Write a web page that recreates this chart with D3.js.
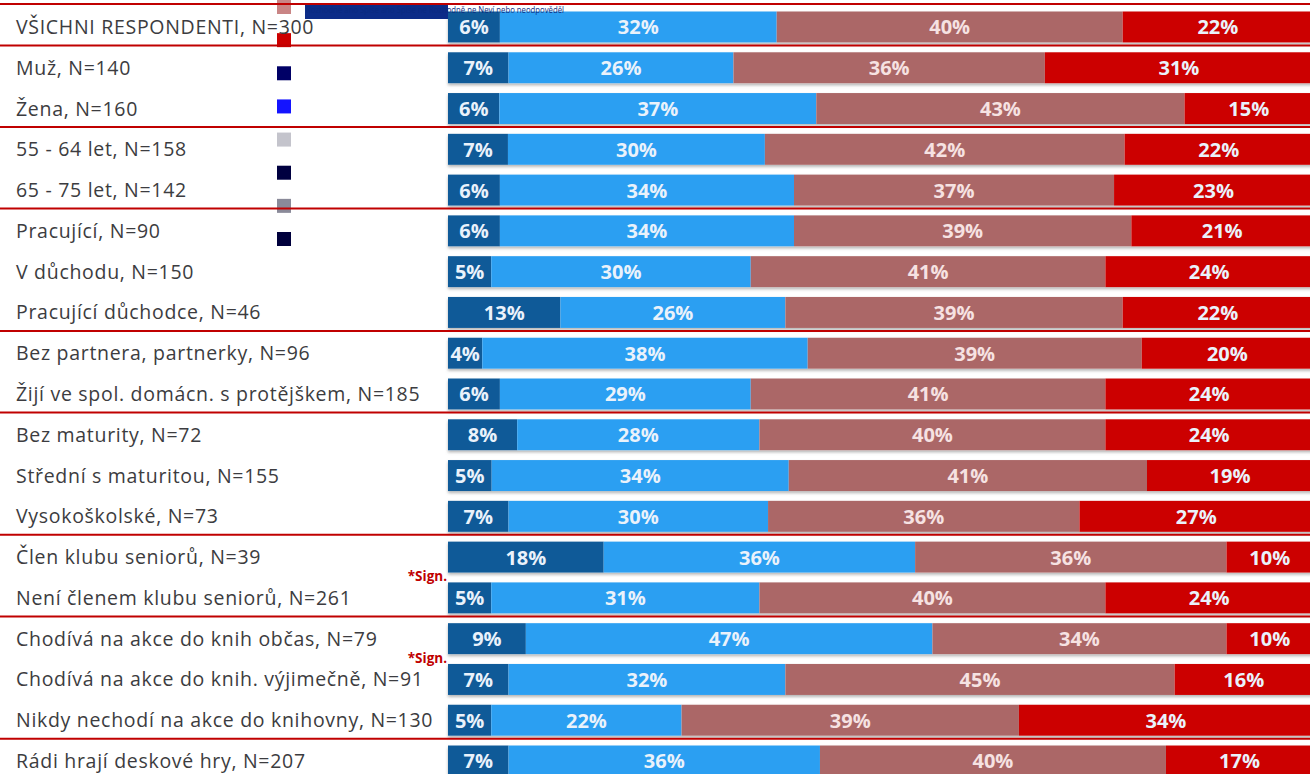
<!DOCTYPE html>
<html>
<head>
<meta charset="utf-8">
<script src="https://cdn.jsdelivr.net/npm/d3@7"></script>
<style>
  body { margin: 0; background: #fff; }
  svg { display: block; }
</style>
</head>
<body>
<div id="chart"></div>
<script>
// chart data
var categories = [
  "VŠICHNI RESPONDENTI, N=300",
  "Muž, N=140",
  "Žena, N=160",
  "55 - 64 let, N=158",
  "65 - 75 let, N=142",
  "Pracující, N=90",
  "V důchodu, N=150",
  "Pracující důchodce, N=46",
  "Bez partnera, partnerky, N=96",
  "Žijí ve spol. domácn. s protějškem, N=185",
  "Bez maturity, N=72",
  "Střední s maturitou, N=155",
  "Vysokoškolské, N=73",
  "Člen klubu seniorů, N=39",
  "Není členem klubu seniorů, N=261",
  "Chodívá na akce do knih občas, N=79",
  "Chodívá na akce do knih. výjimečně, N=91",
  "Nikdy nechodí na akce do knihovny, N=130",
  "Rádi hrají deskové hry, N=207"
];
var s1 = [6, 7, 6, 7, 6, 6, 5, 13, 4, 6, 8, 5, 7, 18, 5, 9, 7, 5, 7];
var s2 = [32, 26, 37, 30, 34, 34, 30, 26, 38, 29, 28, 34, 30, 36, 31, 47, 32, 22, 36];
var s3 = [40, 36, 43, 42, 37, 39, 41, 39, 39, 41, 40, 41, 36, 36, 40, 34, 45, 39, 40];
var s4 = [22, 31, 15, 22, 23, 21, 24, 22, 20, 24, 24, 19, 27, 10, 24, 10, 16, 34, 17];
var seriesKeys = ["s1", "s2", "s3", "s4"];
var seriesColors = ["#0f5a98", "#2b9ff2", "#ab6767", "#cc0000"];
var groupEnds = [0, 2, 4, 7, 9, 12, 14, 17];   // separator line after these rows
var signRows = [13, 15];                        // "*Sign." between this row and next
var legendColors = ["#c98585", "#cc0000", "#000066", "#1414ff", "#c4c4cc", "#000040", "#8a8a99", "#00003c"];

var svgWidth = 1310;
var svgHeight = 774;

var svg = d3.select("#chart")
  .append("svg")
  .attr("width", svgWidth)
  .attr("height", svgHeight);

var defs = svg.append("defs");
var shadow = defs.append("filter").attr("id", "shadow")
  .attr("x", "-2%").attr("y", "-30%").attr("width", "104%").attr("height", "170%");
shadow.append("feDropShadow")
  .attr("dx", 0).attr("dy", 2).attr("stdDeviation", 1.4)
  .attr("flood-color", "#777").attr("flood-opacity", 0.55);

var rows = categories.map(function(c, i) {
  return { cat: c, s1: s1[i], s2: s2[i], s3: s3[i], s4: s4[i] };
});

// 100% stacked
var stacked = d3.stack().keys(seriesKeys).offset(d3.stackOffsetExpand)(rows);

var x = d3.scaleLinear().domain([0, 1]).range([448, 1313]);
var y = d3.scaleBand()
  .domain(categories)
  .range([6.6, 781.4])
  .paddingInner(0.24)
  .paddingOuter(0.12);
var bw = y.bandwidth();

// row shadows
svg.append("g")
  .selectAll("rect")
  .data(rows)
  .enter()
  .append("rect")
  .attr("x", x(0))
  .attr("y", function(d) { return y(d.cat); })
  .attr("width", x(1) - x(0))
  .attr("height", bw)
  .attr("fill", "#fff")
  .attr("filter", "url(#shadow)");

// bars
var layers = svg.append("g")
  .selectAll("g")
  .data(stacked)
  .enter()
  .append("g")
  .attr("fill", function(d, i) { return seriesColors[i]; });

layers.selectAll("rect")
  .data(function(d) { return d; })
  .enter()
  .append("rect")
  .attr("x", function(d) { return x(d[0]); })
  .attr("y", function(d) { return y(d.data.cat); })
  .attr("width", function(d) { return x(d[1]) - x(d[0]); })
  .attr("height", bw);

// squashed legend left over in the corner (drawn under the value labels)
var ly = d3.scalePoint().domain(d3.range(legendColors.length)).range([7, 239]);
svg.append("g")
  .selectAll("rect")
  .data(legendColors)
  .enter()
  .append("rect")
  .attr("x", 277)
  .attr("y", function(d, i) { return ly(i) - 7; })
  .attr("width", 14)
  .attr("height", 14)
  .attr("fill", function(d) { return d; });

svg.append("rect")
  .attr("x", 305).attr("y", 5)
  .attr("width", 143).attr("height", 14)
  .attr("fill", "#0c2c88");
svg.append("text")
  .attr("x", 306).attr("y", 12.5)
  .attr("textLength", 258)
  .attr("lengthAdjust", "spacingAndGlyphs")
  .style("font-family", "'Open Sans', sans-serif")
  .style("font-size", "9px")
  .attr("fill", "#0a2a80")
  .text("Rozhodně ano Spíše ano Spíše ne Rozhodně ne Neví nebo neodpověděl");

// values in bars
layers.each(function(layer) {
  var key = layer.key;
  d3.select(this).selectAll("text")
    .data(layer)
    .enter()
    .append("text")
    .attr("x", function(d) { return (x(d[0]) + x(d[1])) / 2; })
    .attr("y", function(d) { return y(d.data.cat) + bw / 2; })
    .attr("dy", "0.37em")
    .attr("text-anchor", "middle")
    .style("font-family", "'Open Sans', sans-serif")
    .style("font-weight", "bold")
    .style("font-size", "20px")
    .attr("fill", key === "s3" ? "#f6e2e2" : "#eaf2fb")
    .text(function(d) { return d.data[key] + "%"; });
});

// category labels
svg.append("g")
  .selectAll("text")
  .data(categories)
  .enter()
  .append("text")
  .attr("x", 16)
  .attr("y", function(d) { return y(d) + bw / 2; })
  .attr("dy", "0.36em")
  .style("font-family", "'Open Sans', sans-serif")
  .style("font-size", "19.5px")
  .style("letter-spacing", "0.7px")
  .attr("fill", "#3c3c40")
  .text(function(d) { return d; });

// group separators
var sepY = [4].concat(groupEnds.map(function(i) { return y(categories[i]) + bw + 3; }));
svg.append("g")
  .selectAll("line")
  .data(sepY)
  .enter()
  .append("line")
  .attr("x1", 0)
  .attr("x2", svgWidth)
  .attr("y1", function(d) { return d; })
  .attr("y2", function(d) { return d; })
  .attr("stroke", "#c00000")
  .attr("stroke-width", 2);

// significance notes
svg.append("g")
  .selectAll("text")
  .data(signRows)
  .enter()
  .append("text")
  .attr("x", 447)
  .attr("y", function(i) { return (y(categories[i]) + y(categories[i + 1]) + bw) / 2 - 1; })
  .attr("dy", "0.36em")
  .attr("text-anchor", "end")
  .style("font-family", "'Open Sans', sans-serif")
  .style("font-weight", "bold")
  .style("font-size", "13.5px")
  .attr("fill", "#c00000")
  .text("*Sign.");
</script>
</body>
</html>
